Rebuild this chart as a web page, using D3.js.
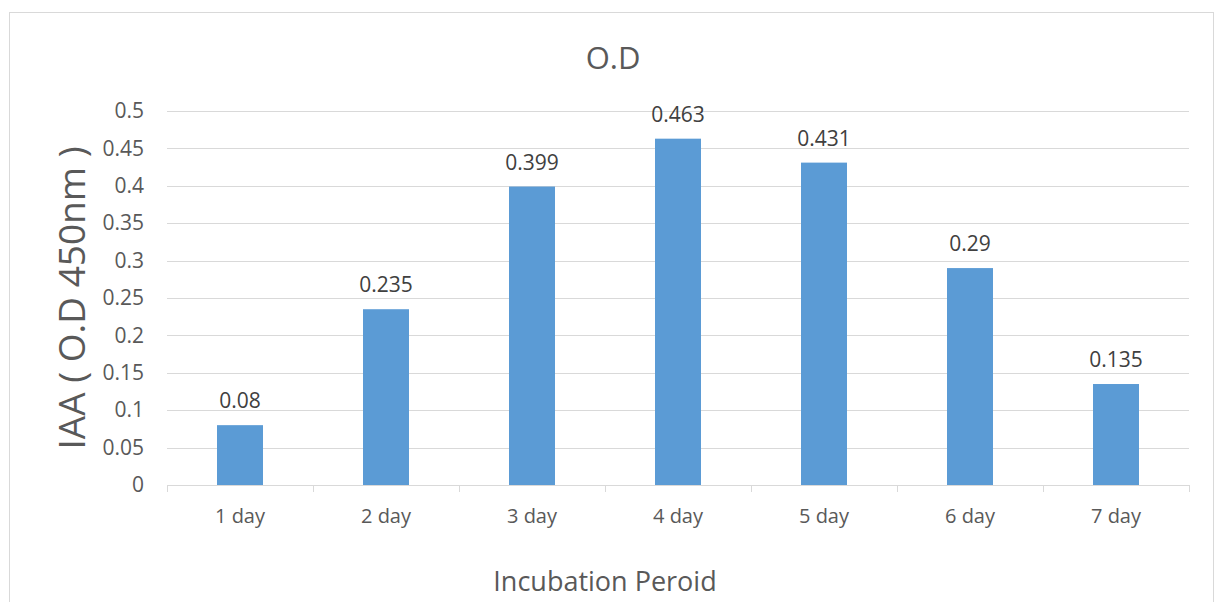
<!DOCTYPE html>
<html>
<head>
<meta charset="utf-8">
<script src="https://cdn.jsdelivr.net/npm/d3@7"></script>
<style>
  html, body { margin: 0; padding: 0; background: #fff; }
  svg { display: block; font-family: "Open Sans", "Noto Sans", sans-serif; }
</style>
</head>
<body>
<svg id="chart" width="1218" height="602"></svg>
<script>
// Incubation periods and their IAA optical density readings
const categories = ["1 day", "2 day", "3 day", "4 day", "5 day", "6 day", "7 day"];
const values = [0.08, 0.235, 0.399, 0.463, 0.431, 0.29, 0.135];
const yTicks = [0, 0.05, 0.1, 0.15, 0.2, 0.25, 0.3, 0.35, 0.4, 0.45, 0.5];

const svg = d3.select("#chart");
const plot = { left: 167, right: 1189, top: 111, bottom: 485 };
const textColor = "#595959";
const fontFamily = "'Open Sans', 'Noto Sans', sans-serif";

// outer chart frame
svg.append("rect")
  .attr("x", 9.5).attr("y", 12.5)
  .attr("width", 1204).attr("height", 600)
  .attr("fill", "#fff").attr("stroke", "#d9d9d9").attr("stroke-width", 1);

const x = d3.scaleBand()
  .domain(categories)
  .range([plot.left, plot.right])
  .paddingInner(0.685).paddingOuter(0.3425);

const y = d3.scaleLinear()
  .domain([0, 0.5])
  .range([plot.bottom, plot.top]);

// horizontal gridlines
svg.append("g")
  .selectAll("line")
  .data(yTicks.filter(d => d > 0))
  .join("line")
  .attr("x1", plot.left).attr("x2", plot.right)
  .attr("y1", d => Math.round(y(d)) + 0.5).attr("y2", d => Math.round(y(d)) + 0.5)
  .attr("stroke", "#d9d9d9").attr("stroke-width", 1);

// y axis labels
const yAxis = d3.axisLeft(y).tickValues(yTicks).tickSize(0).tickPadding(23)
  .tickFormat(d => String(+d.toFixed(2)));
const gy = svg.append("g").attr("transform", `translate(${plot.left},0)`).call(yAxis);
gy.select(".domain").remove();
gy.selectAll("text").attr("fill", textColor).attr("font-size", 21)
  .attr("font-family", fontFamily);

// bars
svg.append("g")
  .selectAll("rect")
  .data(values)
  .join("rect")
  .attr("x", (d, i) => x(categories[i]))
  .attr("y", d => y(d))
  .attr("width", x.bandwidth())
  .attr("height", d => y(0) - y(d))
  .attr("fill", "#5b9bd5");

// x axis with category ticks between bands
const xAxisG = svg.append("g").attr("transform", `translate(0,${plot.bottom})`);
xAxisG.append("line")
  .attr("x1", plot.left).attr("x2", plot.right)
  .attr("y1", 0.5).attr("y2", 0.5)
  .attr("stroke", "#d9d9d9").attr("stroke-width", 1);
const boundaries = d3.range(categories.length + 1)
  .map(i => plot.left + i * (plot.right - plot.left) / categories.length);
xAxisG.selectAll("line.tick")
  .data(boundaries)
  .join("line")
  .attr("class", "tick")
  .attr("x1", d => Math.round(d) + 0.5).attr("x2", d => Math.round(d) + 0.5)
  .attr("y1", 0).attr("y2", 7)
  .attr("stroke", "#d9d9d9").attr("stroke-width", 1);
xAxisG.selectAll("text")
  .data(categories)
  .join("text")
  .attr("x", d => x(d) + x.bandwidth() / 2)
  .attr("y", 38)
  .attr("text-anchor", "middle")
  .attr("fill", textColor).attr("font-size", 20)
  .text(d => d);

// data labels
svg.append("g")
  .selectAll("text")
  .data(values)
  .join("text")
  .attr("x", (d, i) => x(categories[i]) + x.bandwidth() / 2)
  .attr("y", d => y(d) - 17)
  .attr("text-anchor", "middle")
  .attr("fill", "#404040").attr("font-size", 21)
  .text(d => d);

// title
svg.append("text")
  .attr("x", 613).attr("y", 69)
  .attr("text-anchor", "middle")
  .attr("fill", textColor).attr("font-size", 31)
  .text("O.D");

// axis titles
svg.append("text")
  .attr("transform", `translate(85,${(plot.top + plot.bottom) / 2}) rotate(-90)`)
  .attr("text-anchor", "middle")
  .attr("fill", textColor).attr("font-size", 37)
  .text("IAA ( O.D 450nm )");

svg.append("text")
  .attr("x", 605).attr("y", 591)
  .attr("text-anchor", "middle")
  .attr("fill", textColor).attr("font-size", 27)
  .text("Incubation Peroid");
</script>
</body>
</html>
